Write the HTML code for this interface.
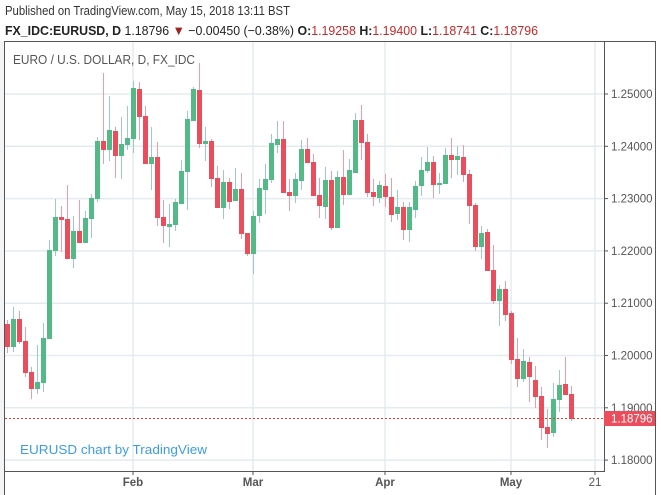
<!DOCTYPE html>
<html><head><meta charset="utf-8"><style>
html,body{margin:0;padding:0;background:#fff;}
svg{display:block;font-family:"Liberation Sans",sans-serif;}
.g rect.b{fill:#53b987}.g rect.w{fill:#9ccbc6}
.r rect.b{fill:#eb4d5c}.r rect.w{fill:#f59aa5}
</style></head><body>
<svg width="661" height="495" viewBox="0 0 661 495" xmlns="http://www.w3.org/2000/svg">
<rect width="661" height="495" fill="#fff"/>
<rect x="0" y="41" width="4" height="454" fill="#f2f4f6"/>
<text x="5" y="15" font-size="13" fill="#333" textLength="285" lengthAdjust="spacingAndGlyphs">Published on TradingView.com, May 15, 2018 13:11 BST</text>
<text x="5" y="35" font-size="13" fill="#222" textLength="533" lengthAdjust="spacingAndGlyphs"><tspan font-weight="bold">FX_IDC:EURUSD, D</tspan> 1.18796 <tspan fill="#a32020">▼</tspan> −0.00450 (−0.38%) <tspan font-weight="bold">O:</tspan><tspan fill="#c62828">1.19258</tspan> <tspan font-weight="bold">H:</tspan><tspan fill="#c62828">1.19400</tspan> <tspan font-weight="bold">L:</tspan><tspan fill="#c62828">1.18741</tspan> <tspan font-weight="bold">C:</tspan><tspan fill="#c62828">1.18796</tspan></text>
<g stroke="#e3ebf0" stroke-width="1.5">
<line x1="5" x2="604" y1="94" y2="94"/><line x1="5" x2="604" y1="146.3" y2="146.3"/><line x1="5" x2="604" y1="198.6" y2="198.6"/><line x1="5" x2="604" y1="250.9" y2="250.9"/><line x1="5" x2="604" y1="303.2" y2="303.2"/><line x1="5" x2="604" y1="355.5" y2="355.5"/><line x1="5" x2="604" y1="407.8" y2="407.8"/><line x1="5" x2="604" y1="460.1" y2="460.1"/>
<line x1="133" x2="133" y1="41" y2="471"/><line x1="253" x2="253" y1="41" y2="471"/><line x1="385" x2="385" y1="41" y2="471"/><line x1="511" x2="511" y1="41" y2="471"/><line x1="595" x2="595" y1="41" y2="471"/>
</g>
<rect x="4.5" y="41.5" width="651" height="460" fill="none" stroke="#555" stroke-width="1"/>
<line x1="604.5" y1="41" x2="604.5" y2="471.5" stroke="#555"/>
<line x1="4" y1="471.5" x2="605" y2="471.5" stroke="#555"/>
<text x="13" y="64" font-size="12.5" fill="#555" textLength="182" lengthAdjust="spacingAndGlyphs">EURO / U.S. DOLLAR, D, FX_IDC</text>
<g id="c">
<g class="r"><rect class="w" x="7" y="320" width="1" height="33"/><rect class="b" x="5" y="324" width="5" height="23"/></g>
<g class="g"><rect class="w" x="13" y="307" width="1" height="45"/><rect class="b" x="11" y="319" width="5" height="28"/></g>
<g class="r"><rect class="w" x="19" y="311" width="1" height="33"/><rect class="b" x="17" y="319" width="5" height="23"/></g>
<g class="r"><rect class="w" x="25" y="327" width="1" height="50"/><rect class="b" x="23" y="341" width="5" height="32"/></g>
<g class="r"><rect class="w" x="31" y="367" width="1" height="32"/><rect class="b" x="29" y="372" width="5" height="17"/></g>
<g class="g"><rect class="w" x="37" y="345" width="1" height="49"/><rect class="b" x="35" y="382" width="5" height="7"/></g>
<g class="g"><rect class="w" x="43" y="323" width="1" height="69"/><rect class="b" x="41" y="338" width="5" height="45"/></g>
<g class="g"><rect class="w" x="49" y="240" width="1" height="99"/><rect class="b" x="47" y="250" width="5" height="89"/></g>
<g class="g"><rect class="w" x="55" y="199" width="1" height="57"/><rect class="b" x="53" y="217" width="5" height="34"/></g>
<g class="r"><rect class="w" x="61" y="206" width="1" height="46"/><rect class="b" x="59" y="217" width="5" height="3"/></g>
<g class="r"><rect class="w" x="67" y="185" width="1" height="74"/><rect class="b" x="65" y="219" width="5" height="40"/></g>
<g class="g"><rect class="w" x="73" y="216" width="1" height="52"/><rect class="b" x="71" y="231" width="5" height="28"/></g>
<g class="r"><rect class="w" x="79" y="200" width="1" height="43"/><rect class="b" x="77" y="231" width="5" height="12"/></g>
<g class="g"><rect class="w" x="85" y="211" width="1" height="32"/><rect class="b" x="83" y="218" width="5" height="25"/></g>
<g class="g"><rect class="w" x="91" y="194" width="1" height="44"/><rect class="b" x="89" y="198" width="5" height="21"/></g>
<g class="g"><rect class="w" x="97" y="137" width="1" height="65"/><rect class="b" x="95" y="141" width="5" height="58"/></g>
<g class="r"><rect class="w" x="103" y="73" width="1" height="91"/><rect class="b" x="101" y="141" width="5" height="9"/></g>
<g class="g"><rect class="w" x="109" y="96" width="1" height="65"/><rect class="b" x="107" y="130" width="5" height="20"/></g>
<g class="r"><rect class="w" x="115" y="127" width="1" height="51"/><rect class="b" x="113" y="131" width="5" height="25"/></g>
<g class="g"><rect class="w" x="121" y="117" width="1" height="62"/><rect class="b" x="119" y="144" width="5" height="12"/></g>
<g class="g"><rect class="w" x="127" y="106" width="1" height="44"/><rect class="b" x="125" y="138" width="5" height="7"/></g>
<g class="g"><rect class="w" x="133" y="81" width="1" height="72"/><rect class="b" x="131" y="88" width="5" height="51"/></g>
<g class="r"><rect class="w" x="139" y="82" width="1" height="58"/><rect class="b" x="137" y="89" width="5" height="28"/></g>
<g class="r"><rect class="w" x="145" y="106" width="1" height="58"/><rect class="b" x="143" y="116" width="5" height="48"/></g>
<g class="g"><rect class="w" x="151" y="127" width="1" height="63"/><rect class="b" x="149" y="157" width="5" height="7"/></g>
<g class="r"><rect class="w" x="157" y="142" width="1" height="84"/><rect class="b" x="155" y="157" width="5" height="61"/></g>
<g class="r"><rect class="w" x="163" y="200" width="1" height="43"/><rect class="b" x="161" y="217" width="5" height="9"/></g>
<g class="g"><rect class="w" x="169" y="204" width="1" height="43"/><rect class="b" x="167" y="224" width="5" height="3"/></g>
<g class="g"><rect class="w" x="175" y="199" width="1" height="32"/><rect class="b" x="173" y="202" width="5" height="23"/></g>
<g class="g"><rect class="w" x="181" y="160" width="1" height="44"/><rect class="b" x="179" y="171" width="5" height="33"/></g>
<g class="g"><rect class="w" x="187" y="111" width="1" height="99"/><rect class="b" x="185" y="119" width="5" height="53"/></g>
<g class="g"><rect class="w" x="193" y="87" width="1" height="34"/><rect class="b" x="191" y="89" width="5" height="32"/></g>
<g class="r"><rect class="w" x="199" y="63" width="1" height="85"/><rect class="b" x="197" y="90" width="5" height="54"/></g>
<g class="g"><rect class="w" x="205" y="127" width="1" height="34"/><rect class="b" x="203" y="141" width="5" height="3"/></g>
<g class="r"><rect class="w" x="211" y="139" width="1" height="48"/><rect class="b" x="209" y="141" width="5" height="38"/></g>
<g class="r"><rect class="w" x="217" y="166" width="1" height="42"/><rect class="b" x="215" y="178" width="5" height="30"/></g>
<g class="g"><rect class="w" x="223" y="170" width="1" height="49"/><rect class="b" x="221" y="182" width="5" height="26"/></g>
<g class="r"><rect class="w" x="229" y="178" width="1" height="31"/><rect class="b" x="227" y="182" width="5" height="20"/></g>
<g class="g"><rect class="w" x="235" y="168" width="1" height="33"/><rect class="b" x="233" y="189" width="5" height="12"/></g>
<g class="r"><rect class="w" x="241" y="173" width="1" height="66"/><rect class="b" x="239" y="189" width="5" height="45"/></g>
<g class="r"><rect class="w" x="247" y="233" width="1" height="23"/><rect class="b" x="245" y="233" width="5" height="21"/></g>
<g class="g"><rect class="w" x="253" y="211" width="1" height="63"/><rect class="b" x="251" y="216" width="5" height="38"/></g>
<g class="g"><rect class="w" x="259" y="179" width="1" height="44"/><rect class="b" x="257" y="188" width="5" height="28"/></g>
<g class="g"><rect class="w" x="265" y="164" width="1" height="50"/><rect class="b" x="263" y="179" width="5" height="11"/></g>
<g class="g"><rect class="w" x="271" y="134" width="1" height="49"/><rect class="b" x="269" y="143" width="5" height="37"/></g>
<g class="g"><rect class="w" x="277" y="121" width="1" height="32"/><rect class="b" x="275" y="139" width="5" height="6"/></g>
<g class="r"><rect class="w" x="283" y="121" width="1" height="72"/><rect class="b" x="281" y="139" width="5" height="54"/></g>
<g class="r"><rect class="w" x="289" y="179" width="1" height="32"/><rect class="b" x="287" y="192" width="5" height="4"/></g>
<g class="g"><rect class="w" x="295" y="173" width="1" height="30"/><rect class="b" x="293" y="179" width="5" height="17"/></g>
<g class="g"><rect class="w" x="301" y="140" width="1" height="50"/><rect class="b" x="299" y="149" width="5" height="32"/></g>
<g class="r"><rect class="w" x="307" y="138" width="1" height="25"/><rect class="b" x="305" y="149" width="5" height="14"/></g>
<g class="r"><rect class="w" x="313" y="154" width="1" height="42"/><rect class="b" x="311" y="162" width="5" height="34"/></g>
<g class="r"><rect class="w" x="319" y="178" width="1" height="40"/><rect class="b" x="317" y="195" width="5" height="11"/></g>
<g class="g"><rect class="w" x="325" y="167" width="1" height="52"/><rect class="b" x="323" y="180" width="5" height="27"/></g>
<g class="r"><rect class="w" x="331" y="171" width="1" height="59"/><rect class="b" x="329" y="180" width="5" height="48"/></g>
<g class="g"><rect class="w" x="337" y="171" width="1" height="57"/><rect class="b" x="335" y="177" width="5" height="51"/></g>
<g class="r"><rect class="w" x="343" y="150" width="1" height="55"/><rect class="b" x="341" y="177" width="5" height="18"/></g>
<g class="g"><rect class="w" x="349" y="159" width="1" height="36"/><rect class="b" x="347" y="170" width="5" height="25"/></g>
<g class="g"><rect class="w" x="355" y="113" width="1" height="60"/><rect class="b" x="353" y="120" width="5" height="53"/></g>
<g class="r"><rect class="w" x="361" y="105" width="1" height="55"/><rect class="b" x="359" y="120" width="5" height="23"/></g>
<g class="r"><rect class="w" x="367" y="134" width="1" height="63"/><rect class="b" x="365" y="142" width="5" height="51"/></g>
<g class="r"><rect class="w" x="373" y="179" width="1" height="27"/><rect class="b" x="371" y="192" width="5" height="5"/></g>
<g class="g"><rect class="w" x="379" y="181" width="1" height="22"/><rect class="b" x="377" y="185" width="5" height="13"/></g>
<g class="r"><rect class="w" x="385" y="174" width="1" height="33"/><rect class="b" x="383" y="186" width="5" height="11"/></g>
<g class="r"><rect class="w" x="391" y="178" width="1" height="44"/><rect class="b" x="389" y="197" width="5" height="18"/></g>
<g class="g"><rect class="w" x="397" y="190" width="1" height="30"/><rect class="b" x="395" y="207" width="5" height="7"/></g>
<g class="r"><rect class="w" x="403" y="202" width="1" height="38"/><rect class="b" x="401" y="207" width="5" height="23"/></g>
<g class="g"><rect class="w" x="409" y="202" width="1" height="40"/><rect class="b" x="407" y="207" width="5" height="23"/></g>
<g class="g"><rect class="w" x="415" y="181" width="1" height="37"/><rect class="b" x="413" y="186" width="5" height="24"/></g>
<g class="g"><rect class="w" x="421" y="157" width="1" height="39"/><rect class="b" x="419" y="170" width="5" height="16"/></g>
<g class="g"><rect class="w" x="427" y="147" width="1" height="26"/><rect class="b" x="425" y="162" width="5" height="9"/></g>
<g class="r"><rect class="w" x="433" y="156" width="1" height="42"/><rect class="b" x="431" y="162" width="5" height="23"/></g>
<g class="g"><rect class="w" x="439" y="173" width="1" height="21"/><rect class="b" x="437" y="183" width="5" height="2"/></g>
<g class="g"><rect class="w" x="445" y="148" width="1" height="36"/><rect class="b" x="443" y="155" width="5" height="29"/></g>
<g class="r"><rect class="w" x="451" y="138" width="1" height="40"/><rect class="b" x="449" y="155" width="5" height="5"/></g>
<g class="g"><rect class="w" x="457" y="146" width="1" height="29"/><rect class="b" x="455" y="156" width="5" height="4"/></g>
<g class="r"><rect class="w" x="463" y="145" width="1" height="37"/><rect class="b" x="461" y="157" width="5" height="18"/></g>
<g class="r"><rect class="w" x="469" y="170" width="1" height="54"/><rect class="b" x="467" y="174" width="5" height="32"/></g>
<g class="r"><rect class="w" x="475" y="203" width="1" height="48"/><rect class="b" x="473" y="205" width="5" height="42"/></g>
<g class="g"><rect class="w" x="481" y="226" width="1" height="33"/><rect class="b" x="479" y="233" width="5" height="14"/></g>
<g class="r"><rect class="w" x="487" y="229" width="1" height="42"/><rect class="b" x="485" y="232" width="5" height="39"/></g>
<g class="r"><rect class="w" x="493" y="245" width="1" height="59"/><rect class="b" x="491" y="270" width="5" height="31"/></g>
<g class="g"><rect class="w" x="499" y="285" width="1" height="41"/><rect class="b" x="497" y="289" width="5" height="12"/></g>
<g class="r"><rect class="w" x="505" y="281" width="1" height="40"/><rect class="b" x="503" y="289" width="5" height="26"/></g>
<g class="r"><rect class="w" x="511" y="311" width="1" height="53"/><rect class="b" x="509" y="313" width="5" height="47"/></g>
<g class="r"><rect class="w" x="517" y="338" width="1" height="49"/><rect class="b" x="515" y="359" width="5" height="20"/></g>
<g class="g"><rect class="w" x="523" y="349" width="1" height="33"/><rect class="b" x="521" y="361" width="5" height="18"/></g>
<g class="r"><rect class="w" x="529" y="357" width="1" height="45"/><rect class="b" x="527" y="362" width="5" height="15"/></g>
<g class="r"><rect class="w" x="535" y="366" width="1" height="42"/><rect class="b" x="533" y="380" width="5" height="17"/></g>
<g class="r"><rect class="w" x="541" y="387" width="1" height="53"/><rect class="b" x="539" y="396" width="5" height="32"/></g>
<g class="r"><rect class="w" x="547" y="409" width="1" height="39"/><rect class="b" x="545" y="427" width="5" height="7"/></g>
<g class="g"><rect class="w" x="553" y="383" width="1" height="54"/><rect class="b" x="551" y="399" width="5" height="34"/></g>
<g class="g"><rect class="w" x="559" y="370" width="1" height="42"/><rect class="b" x="557" y="385" width="5" height="15"/></g>
<g class="r"><rect class="w" x="565" y="357" width="1" height="38"/><rect class="b" x="563" y="384" width="5" height="11"/></g>
<g class="r"><rect class="w" x="571" y="386" width="1" height="35"/><rect class="b" x="569" y="394" width="5" height="25"/></g>
</g>
<line x1="5" x2="604" y1="418.5" y2="418.5" stroke="#e53935" stroke-width="1" stroke-dasharray="2,2"/>
<g stroke="#555"><line x1="604" x2="608" y1="94" y2="94"/><line x1="604" x2="608" y1="146.3" y2="146.3"/><line x1="604" x2="608" y1="198.6" y2="198.6"/><line x1="604" x2="608" y1="250.9" y2="250.9"/><line x1="604" x2="608" y1="303.2" y2="303.2"/><line x1="604" x2="608" y1="355.5" y2="355.5"/><line x1="604" x2="608" y1="407.8" y2="407.8"/><line x1="604" x2="608" y1="460.1" y2="460.1"/>
<line x1="133" x2="133" y1="471" y2="475"/><line x1="253" x2="253" y1="471" y2="475"/><line x1="385" x2="385" y1="471" y2="475"/><line x1="511" x2="511" y1="471" y2="475"/><line x1="595" x2="595" y1="471" y2="475"/></g>
<g font-size="11.5" fill="#555">
<text x="611" y="98">1.25000</text><text x="611" y="150.3">1.24000</text><text x="611" y="202.6">1.23000</text><text x="611" y="254.9">1.22000</text><text x="611" y="307.2">1.21000</text><text x="611" y="359.5">1.20000</text><text x="611" y="411.8">1.19000</text><text x="611" y="464.1">1.18000</text>
</g>
<rect x="604" y="411" width="51" height="15" fill="#eb4d5c"/>
<text x="611" y="422.5" font-size="11.5" fill="#fff">1.18796</text>
<g font-size="11.5" fill="#555" font-weight="bold" text-anchor="middle">
<text x="133" y="486">Feb</text><text x="253" y="486">Mar</text><text x="385" y="486">Apr</text><text x="511" y="486">May</text><text x="595" y="486" font-weight="normal">21</text>
</g>
<text x="20" y="454" font-size="13" fill="#3c9ee0" textLength="187" lengthAdjust="spacingAndGlyphs">EURUSD chart by TradingView</text>
</svg>
</body></html>
